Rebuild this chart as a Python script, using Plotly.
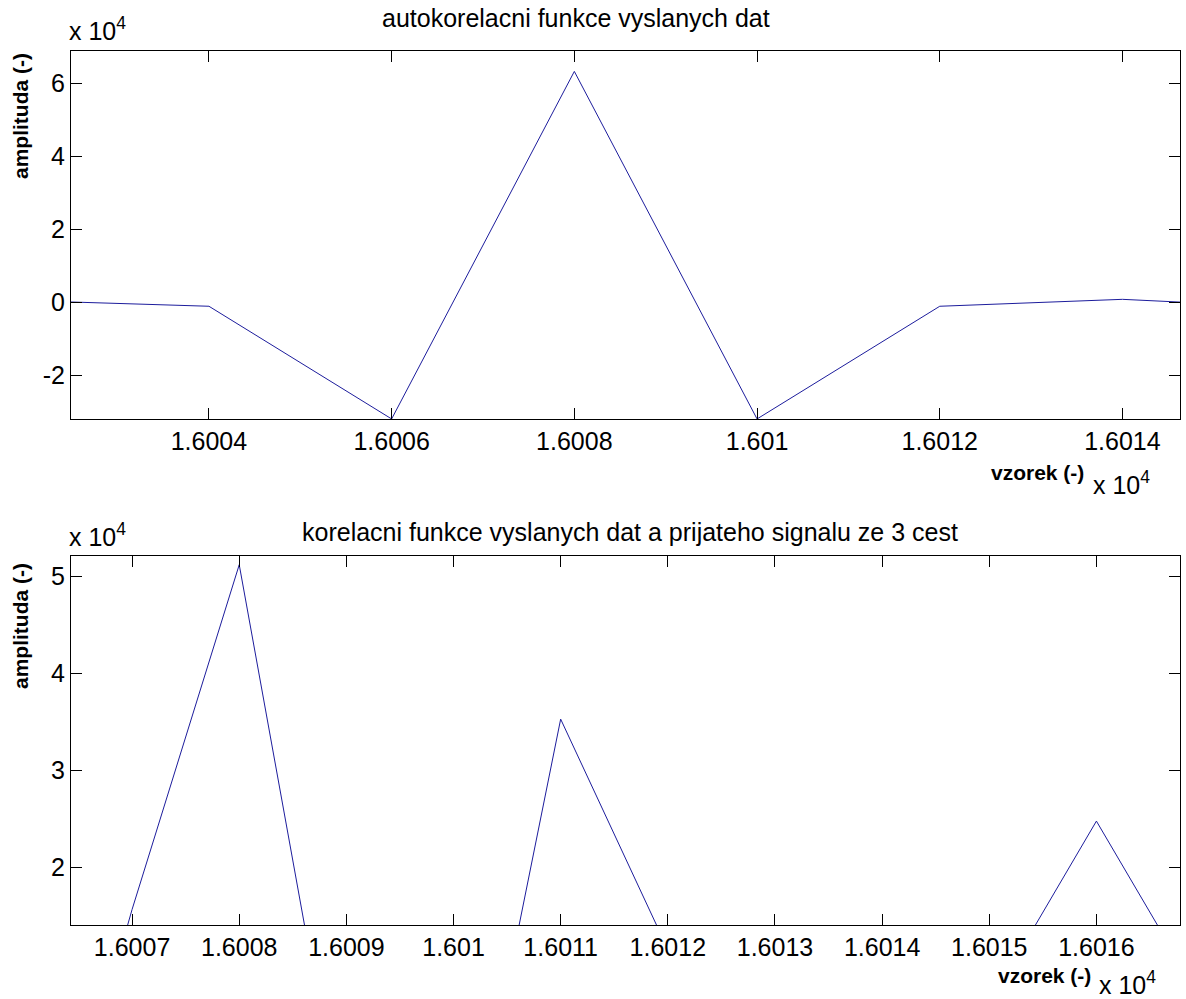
import plotly.graph_objects as go

# ---------------- data ----------------
# top: autocorrelation of transmitted data (sample index, amplitude)
top_x = [16002, 16004, 16006, 16008, 16010, 16012, 16014, 16016]
top_y = [450, -1100, -32000, 63300, -32000, -1100, 800, -1600]

# bottom: correlation of transmitted data and received 3-path signal
bot_x = [16006, 16007, 16008, 16009, 16010, 16011, 16012, 16013, 16014, 16015, 16016, 16017]
bot_y = [-23000, 15700, 51200, -9700, -19400, 35300, 11600, 2000, -3000, 6000, 24800, 6000]

top_xticks = [16004, 16006, 16008, 16010, 16012, 16014]
top_xticktext = ["1.6004", "1.6006", "1.6008", "1.601", "1.6012", "1.6014"]
top_yticks = [-20000, 0, 20000, 40000, 60000]
top_yticktext = ["-2", "0", "2", "4", "6"]

bot_xticks = [16007, 16008, 16009, 16010, 16011, 16012, 16013, 16014, 16015, 16016]
bot_xticktext = ["1.6007", "1.6008", "1.6009", "1.601", "1.6011", "1.6012",
                 "1.6013", "1.6014", "1.6015", "1.6016"]
bot_yticks = [20000, 30000, 40000, 50000]
bot_yticktext = ["2", "3", "4", "5"]

title_top = "autokorelacni funkce vyslanych dat"
title_bot = "korelacni funkce vyslanych dat a prijateho signalu ze 3 cest"
xlabel = "vzorek (-)"
ylabel = "amplituda (-)"
exp_label = "x 10<sup>4</sup>"

# ---------------- layout helpers ----------------
W, H = 1186, 999
FONT = "Liberation Sans, Arial, sans-serif"
LINE = "#1c1c9c"


def px(x):
    return x / W


def py(y):
    return 1 - y / H


fig = go.Figure()
fig.add_trace(go.Scatter(x=top_x, y=top_y, mode="lines",
                         line=dict(color=LINE, width=1), xaxis="x", yaxis="y",
                         showlegend=False, hoverinfo="skip"))
fig.add_trace(go.Scatter(x=bot_x, y=bot_y, mode="lines",
                         line=dict(color=LINE, width=1), xaxis="x2", yaxis="y2",
                         showlegend=False, hoverinfo="skip"))

axis_common = dict(showline=True, linecolor="black", linewidth=1, mirror="allticks",
                   ticks="inside", ticklen=11, tickcolor="black", tickwidth=1,
                   showgrid=False, zeroline=False,
                   tickfont=dict(family=FONT, size=25, color="black"))

fig.update_layout(
    width=W, height=H,
    margin=dict(l=0, r=0, t=0, b=0),
    paper_bgcolor="white", plot_bgcolor="white",
    xaxis=dict(domain=[px(71), px(1180)], range=[16002.49, 16014.63],
               tickvals=top_xticks, ticktext=top_xticktext, anchor="y", **axis_common),
    yaxis=dict(domain=[py(419.3), py(51)], range=[-32100, 68900],
               tickvals=top_yticks, ticktext=top_yticktext, anchor="x", **axis_common),
    xaxis2=dict(domain=[px(71), px(1180)], range=[16006.43, 16016.78],
                tickvals=bot_xticks, ticktext=bot_xticktext, anchor="y2", **axis_common),
    yaxis2=dict(domain=[py(925), py(556)], range=[14100, 52100],
                tickvals=bot_yticks, ticktext=bot_yticktext, anchor="x2", **axis_common),
)

anns = []


def ann(text, x, y, size=25, bold=False, xanchor="center", yanchor="middle", angle=0):
    t = f"<b>{text}</b>" if bold else text
    anns.append(dict(text=t, x=px(x), y=py(y), xref="paper", yref="paper",
                     xanchor=xanchor, yanchor=yanchor, showarrow=False, textangle=angle,
                     font=dict(family=FONT, size=size, color="black")))


ann(title_top, 576, 18)
ann(title_bot, 630, 532)
ann(exp_label, 67, 29, size=25, xanchor="left")
ann(exp_label, 67, 535, size=25, xanchor="left")
ann(exp_label, 1091, 483, size=25, xanchor="left")
ann(exp_label, 1097, 983, size=25, xanchor="left")
ann(xlabel, 1037, 472, size=21, bold=True)
ann(xlabel, 1044, 975, size=21, bold=True)
ann(ylabel, 20, 116, size=21, bold=True, angle=-90)
ann(ylabel, 20, 626, size=21, bold=True, angle=-90)

fig.update_layout(annotations=anns)
fig.write_html("out.html")
